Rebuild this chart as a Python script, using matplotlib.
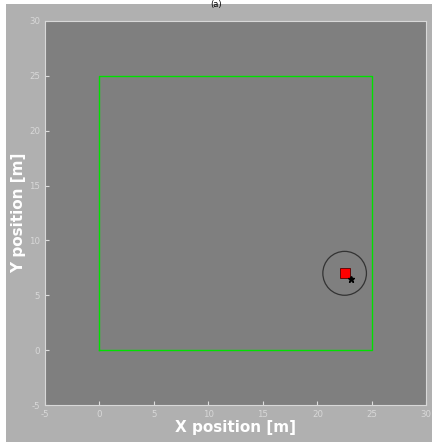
import matplotlib.pyplot as plt
from matplotlib.patches import Rectangle, Circle

# room boundary (m)
room_x = [0, 25, 25, 0, 0]
room_y = [0, 0, 25, 25, 0]

# target / robot
target_x = [22.5]
target_y = [7.0]
sensor_radius = 2.0
star_x = [23.1]
star_y = [6.5]

ticks = [-5, 0, 5, 10, 15, 20, 25, 30]
tick_labels = [str(t) for t in ticks]

fig = plt.figure(figsize=(4.32, 4.42), dpi=100)
fig.patch.set_facecolor("white")
fig.patches.append(Rectangle((6 / 432, 0), 1, 1 - 4 / 442, transform=fig.transFigure,
                             facecolor="#b0b0b0", edgecolor="none", zorder=-10))

ax = fig.add_axes([0.104, 0.0837, 0.883, 0.869])
ax.set_facecolor("#7f7f7f")
ax.set_xlim(-5, 30)
ax.set_ylim(-5, 30)

ax.plot(room_x, room_y, color="#00e000", lw=1)
ax.add_patch(Circle((target_x[0], target_y[0]), sensor_radius, fill=False,
                    edgecolor="#333333", lw=0.9))
ax.plot(target_x, target_y, "s", markersize=7.5, markerfacecolor="red",
        markeredgecolor="#550000", markeredgewidth=0.6)
ax.plot(star_x, star_y, "*", markersize=5, color="black")

ax.set_xticks(ticks)
ax.set_xticklabels(tick_labels)
ax.set_yticks(ticks)
ax.set_yticklabels(tick_labels)
ax.tick_params(direction="in", length=3, colors="#dddddd", labelsize=6.2,
               labelcolor="#d8d8d8", top=False, right=False)
for s in ax.spines.values():
    s.set_color("#d8d8d8")
    s.set_linewidth(0.8)

ax.set_xlabel("X position [m]", color="white", fontsize=11, fontweight="bold", labelpad=1)
ax.set_ylabel("Y position [m]", color="white", fontsize=11, fontweight="bold", labelpad=2)

fig.text(0.5, 0.999, "(a)", ha="center", va="top", fontsize=6, color="black")

fig.savefig("out.png", dpi=100, facecolor=fig.get_facecolor())
